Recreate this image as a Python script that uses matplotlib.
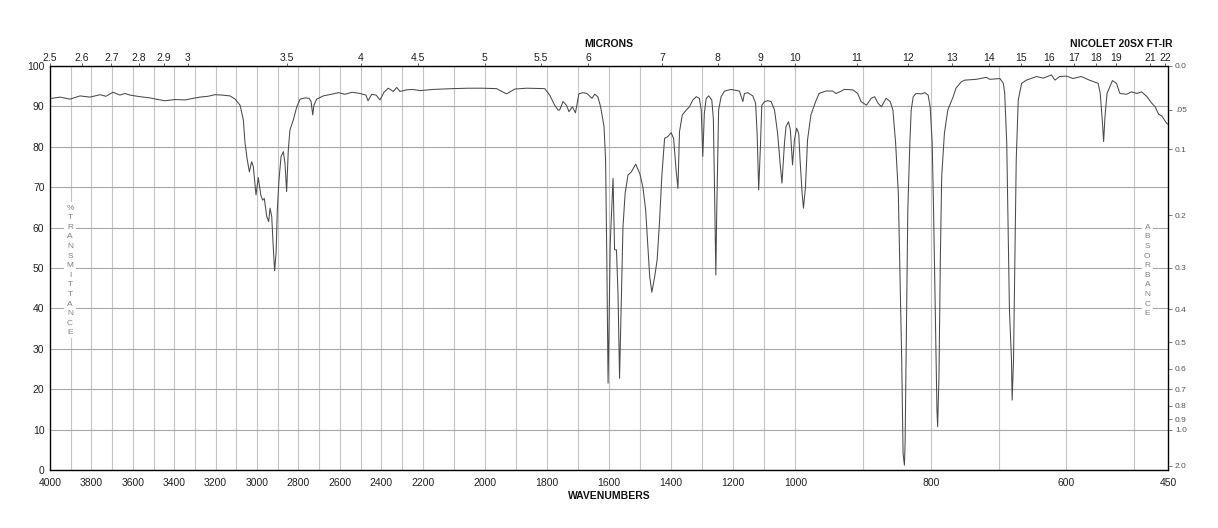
import numpy as np
import matplotlib
matplotlib.use("Agg")
import matplotlib.pyplot as plt
from matplotlib.ticker import FixedLocator

plt.rcParams['font.family'] = ['Liberation Sans', 'DejaVu Sans']

# ---------------- data ----------------
wavenumbers = [
    3999, 3990, 3952, 3903, 3855, 3807, 3758, 3730, 3696, 3662, 3638, 3614, 3565, 3517, 3478,
    3445, 3396, 3348, 3309, 3276, 3237, 3203, 3169, 3131, 3106, 3082, 3066, 3058,
    3047, 3037, 3026, 3018, 3005, 2994, 2982, 2973, 2965, 2953, 2944, 2937, 2929,
    2921, 2915, 2908, 2902, 2894, 2884, 2873, 2865, 2857, 2849, 2841, 2825, 2808,
    2792, 2768, 2748, 2739, 2731, 2725, 2712, 2680, 2632, 2607, 2575, 2541, 2503,
    2474, 2464, 2446, 2425, 2406, 2387, 2366, 2342, 2325, 2310, 2277, 2247, 2213,
    2167, 2103, 2054, 2006, 1962, 1930, 1903, 1866, 1807, 1791, 1775, 1764, 1759,
    1748, 1737, 1729, 1718, 1708, 1697, 1684, 1671, 1655, 1646, 1636, 1627, 1616,
    1611, 1607, 1603, 1600, 1596, 1587, 1582, 1576, 1571, 1566, 1560, 1555, 1548,
    1539, 1528, 1514, 1501, 1491, 1482, 1475, 1469, 1462, 1453, 1445, 1437, 1430,
    1421, 1411, 1400, 1392, 1384, 1378, 1373, 1364, 1351, 1341, 1330, 1319, 1309,
    1303, 1298, 1293, 1287, 1279, 1269, 1264, 1260, 1256, 1253, 1247, 1239, 1228,
    1207, 1180, 1169, 1164, 1153, 1137, 1128, 1123, 1118, 1112, 1108, 1099, 1089,
    1078, 1067, 1057, 1049, 1043, 1035, 1030, 1022, 1016, 1009, 1003, 998, 995,
    993, 990, 988, 985, 982, 977, 970, 965, 955, 945, 940, 932, 928, 915, 908,
    903, 895, 888, 883, 878, 873, 866, 860, 856, 852, 848, 846, 843, 841, 839,
    838, 836, 834, 831, 829, 826, 822, 814, 809, 804, 801, 798, 796, 793, 791,
    790, 788, 786, 784, 780, 775, 767, 763, 755, 750, 733, 718, 713, 698, 693,
    691, 688, 686, 684, 681, 680, 678, 676, 674, 671, 666, 659, 644, 634, 622,
    617, 610, 600, 590, 578, 566, 553, 550, 547, 545, 543, 540, 532, 526, 521,
    511, 504, 496, 489, 481, 474, 469, 464, 459, 452, 450,
]
transmittance = [
    92.0, 92.0, 92.3, 91.8, 92.6, 92.3, 92.9, 92.5, 93.5, 92.8, 93.2, 92.8, 92.4, 92.1, 91.7,
    91.4, 91.7, 91.6, 92.0, 92.3, 92.5, 92.9, 92.8, 92.6, 91.8, 90.3, 86.6, 80.9,
    76.7, 73.8, 76.3, 75.1, 68.1, 72.4, 68.1, 66.8, 67.2, 62.7, 61.5, 64.8, 62.7,
    54.5, 49.3, 53.7, 64.4, 71.8, 77.6, 78.8, 75.9, 68.9, 79.2, 84.2, 86.6, 89.9,
    91.8, 92.1, 92.0, 91.2, 87.9, 90.3, 91.8, 92.6, 93.1, 93.4, 93.0, 93.5, 93.2,
    92.8, 91.4, 93.0, 92.8, 91.6, 93.5, 94.5, 93.7, 94.7, 93.7, 94.1, 94.2, 93.9,
    94.2, 94.4, 94.5, 94.5, 94.4, 93.1, 94.3, 94.5, 94.4, 92.8, 90.3, 89.1, 89.1,
    91.2, 90.3, 88.7, 89.9, 88.4, 93.1, 93.4, 93.2, 92.0, 93.0, 92.4, 89.9, 85.0,
    76.7, 52.0, 21.5, 35.5, 56.1, 72.2, 54.5, 54.5, 43.7, 22.7, 43.8, 60.2, 68.5,
    73.0, 73.8, 75.7, 73.4, 70.1, 64.4, 55.3, 47.9, 44.0, 47.8, 52.0, 61.9, 72.6,
    82.1, 82.5, 83.5, 82.1, 74.3, 69.7, 83.7, 87.9, 89.1, 89.9, 91.6, 92.4, 92.0,
    89.1, 77.6, 88.3, 92.0, 92.6, 91.6, 87.0, 68.5, 48.3, 64.4, 89.1, 92.4, 93.8,
    94.2, 93.8, 91.2, 93.2, 93.4, 92.6, 90.8, 83.3, 69.3, 80.9, 90.3, 91.2, 91.4,
    91.2, 89.1, 83.3, 75.9, 71.0, 80.9, 85.0, 86.2, 84.2, 75.5, 81.7, 84.6, 83.3,
    76.7, 68.5, 64.8, 70.1, 81.7, 87.9, 91.2, 93.2, 93.8, 93.8, 93.2, 93.8, 94.2, 94.1, 93.2,
    91.2, 90.3, 92.0, 92.4, 90.8, 89.9, 92.0, 91.2, 89.1, 80.9, 68.5, 52.0, 27.2, 4.1, 1.2,
    6.6, 35.5, 64.4, 80.9, 89.1, 92.4, 93.2, 93.1, 93.4, 92.8, 89.9, 80.9, 64.4, 35.5, 14.9,
    10.7, 23.1, 52.0, 72.6, 83.3, 89.1, 92.4, 94.5, 96.1, 96.5, 96.7, 97.2, 96.7, 96.9, 95.7,
    93.2, 80.9, 60.2, 39.6, 27.2, 17.3, 27.2, 52.0, 76.7, 91.6, 95.7, 96.5, 97.4, 97.0, 97.8,
    96.5, 97.4, 97.5, 96.9, 97.4, 96.5, 95.7, 93.2, 86.6, 81.3, 87.5, 93.2, 96.4, 95.7, 93.2,
    93.0, 93.6, 93.2, 93.6, 92.4, 90.8, 89.9, 88.1, 87.6, 85.8, 85.6,
]

wavenumber_ticks = [4000, 3800, 3600, 3400, 3200, 3000, 2800, 2600, 2400, 2200, 2000,
                    1800, 1600, 1400, 1200, 1000, 800, 600, 450]
grid_wavenumbers = list(range(500, 4000, 100))
micron_ticks = [2.5, 2.6, 2.7, 2.8, 2.9, 3, 3.5, 4, 4.5, 5, 5.5, 6, 7, 8, 9, 10,
                11, 12, 13, 14, 15, 16, 17, 18, 19, 21, 22]
micron_labels = ['2.5', '2.6', '2.7', '2.8', '2.9', '3', '3.5', '4', '4.5', '5', '5.5',
                 '6', '7', '8', '9', '10', '11', '12', '13', '14', '15', '16', '17',
                 '18', '19', '21', '22']
transmittance_ticks = list(range(0, 101, 10))
absorbance_ticks = [0.0, 0.05, 0.1, 0.2, 0.3, 0.4, 0.5, 0.6, 0.7, 0.8, 0.9, 1.0, 2.0]
absorbance_labels = ['0.0', '.05', '0.1', '0.2', '0.3', '0.4', '0.5', '0.6', '0.7',
                     '0.8', '0.9', '1.0', '2.0']

# ---------------- piecewise-linear wavenumber scale ----------------
SCALE_W = [-100000.0, 450.0, 1000.0, 2200.0, 4000.0, 100000.0]
SCALE_U = [-(100450.0 / 550.0), 0.0, 1.0, 2.0, 3.0, 3.0 + 96000.0 / 1800.0]


def fwd(w):
    return np.interp(np.asarray(w, dtype=float), SCALE_W, SCALE_U)


def inv(u):
    return np.interp(np.asarray(u, dtype=float), SCALE_U, SCALE_W)


W, H = 1218, 528
fig = plt.figure(figsize=(W / 100, H / 100), dpi=100)
L, R, T, B = 50, 1168, 66, 470
ax = fig.add_axes([L / W, 1 - B / H, (R - L) / W, (B - T) / H])

ax.set_xscale('function', functions=(fwd, inv))
ax.plot(wavenumbers, transmittance, color='#4a4a4a', lw=0.75, zorder=3)
ax.set_xlim(4000, 450)
ax.set_ylim(0, 100)

# vertical grid lines every 100 cm-1, drawn from the grid list
for gw in grid_wavenumbers:
    ax.axvline(gw, color='#c4c4c4', lw=0.8, zorder=1)

ax.set_xticks(wavenumber_ticks)
ax.set_xticklabels([str(t) for t in wavenumber_ticks])
ax.set_yticks(transmittance_ticks)
ax.tick_params(axis='x', which='major', length=0, pad=6, labelsize=7.5, colors='#222222')
ax.tick_params(axis='y', length=0, pad=4, labelsize=7.5, colors='#222222')
ax.grid(which='major', axis='y', color='#a8a8a8', lw=0.8, zorder=1)
for s in ax.spines.values():
    s.set_color('#444444')
    s.set_linewidth(0.9)

# top micron axis
ax_top = ax.twiny()
ax_top.set_xscale('function', functions=(fwd, inv))
ax_top.set_xlim(4000, 450)
ax_top.set_xticks([1e4 / m for m in micron_ticks])
ax_top.set_xticklabels(micron_labels)
ax_top.tick_params(axis='x', direction='out', length=2, width=0.6, pad=0.5,
                   labelsize=7.5, colors='#444444', labelcolor='#222222')
ax_top.xaxis.set_minor_locator(FixedLocator([]))

# right absorbance axis
ax_r = ax.twinx()
ax_r.set_ylim(0, 100)
ax_r.set_yticks([100 * 10 ** (-a) for a in absorbance_ticks])
ax_r.set_yticklabels(absorbance_labels)
ax_r.tick_params(axis='y', direction='out', length=3, width=0.6, pad=2,
                 labelsize=6, colors='#666666', labelcolor='#555555')
ax_r.yaxis.set_minor_locator(FixedLocator([]))

# stacked axis captions
ax.text(0.0179, 0.494, '\n'.join('%TRANSMITTANCE'), transform=ax.transAxes,
        ha='center', va='center', fontsize=6, color='#808080', linespacing=1.52,
        bbox=dict(facecolor='white', edgecolor='none', pad=1.5), zorder=4)
ax.text(0.9815, 0.494, '\n'.join('ABSORBANCE'), transform=ax.transAxes,
        ha='center', va='center', fontsize=6, color='#808080', linespacing=1.52,
        bbox=dict(facecolor='white', edgecolor='none', pad=1.5), zorder=4)

fig.text(609 / W, 1 - 44 / H, 'MICRONS', ha='center', va='center',
         fontsize=7.5, fontweight='bold', color='#111111')
fig.text(1172 / W, 1 - 44 / H, 'NICOLET 20SX FT-IR', ha='right', va='center',
         fontsize=7.5, fontweight='bold', color='#111111')
fig.text(609 / W, 1 - 496 / H, 'WAVENUMBERS', ha='center', va='center',
         fontsize=7.5, fontweight='bold', color='#111111')

fig.savefig('out.png', dpi=100, facecolor='white')
